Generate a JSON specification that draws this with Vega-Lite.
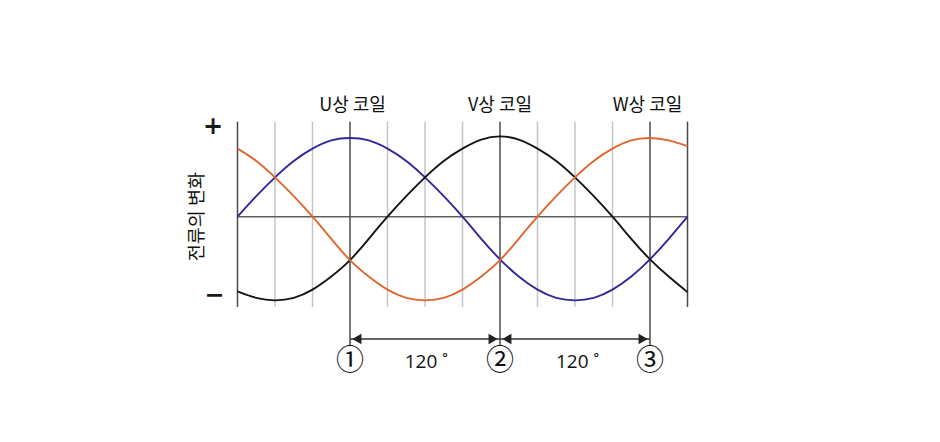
{
  "$schema": "https://vega.github.io/schema/vega-lite/v6.json",
  "width": 940,
  "height": 442,
  "autosize": {"type": "fit", "contains": "padding"},
  "padding": 0,
  "background": "white",
  "view": {"stroke": null},
  "config": {"font": "Noto Sans CJK KR"},
  "datasets": {
    "grid": [
      {"deg": 30, "top": 1.159, "bottom": -1.101},
      {"deg": 60, "top": 1.159, "bottom": -1.101},
      {"deg": 120, "top": 1.159, "bottom": -1.101},
      {"deg": 150, "top": 1.159, "bottom": -1.101},
      {"deg": 180, "top": 1.159, "bottom": -1.101},
      {"deg": 240, "top": 1.159, "bottom": -1.101},
      {"deg": 270, "top": 1.159, "bottom": -1.101},
      {"deg": 300, "top": 1.159, "bottom": -1.101}
    ],
    "frame": [
      {"deg": 0, "top": 1.159, "bottom": -1.101},
      {"deg": 360, "top": 1.159, "bottom": -1.101},
      {"deg": 90, "top": 1.159, "bottom": -1.565},
      {"deg": 210, "top": 1.159, "bottom": -1.565},
      {"deg": 330, "top": 1.159, "bottom": -1.565}
    ],
    "currents": [
      {"phase": "U", "deg": 0, "v": 0}, {"phase": "U", "deg": 15, "v": 0.25}, {"phase": "U", "deg": 30, "v": 0.48},
      {"phase": "U", "deg": 45, "v": 0.68}, {"phase": "U", "deg": 60, "v": 0.83}, {"phase": "U", "deg": 75, "v": 0.93},
      {"phase": "U", "deg": 90, "v": 0.96}, {"phase": "U", "deg": 105, "v": 0.93}, {"phase": "U", "deg": 120, "v": 0.83},
      {"phase": "U", "deg": 135, "v": 0.68}, {"phase": "U", "deg": 150, "v": 0.48}, {"phase": "U", "deg": 165, "v": 0.25},
      {"phase": "U", "deg": 180, "v": 0}, {"phase": "U", "deg": 195, "v": -0.27}, {"phase": "U", "deg": 210, "v": -0.52},
      {"phase": "U", "deg": 225, "v": -0.73}, {"phase": "U", "deg": 240, "v": -0.89}, {"phase": "U", "deg": 255, "v": -0.99},
      {"phase": "U", "deg": 270, "v": -1.02}, {"phase": "U", "deg": 285, "v": -0.99}, {"phase": "U", "deg": 300, "v": -0.89},
      {"phase": "U", "deg": 315, "v": -0.73}, {"phase": "U", "deg": 330, "v": -0.52}, {"phase": "U", "deg": 345, "v": -0.27},
      {"phase": "U", "deg": 360, "v": 0},
      {"phase": "V", "deg": 0, "v": -0.91}, {"phase": "V", "deg": 15, "v": -0.99}, {"phase": "V", "deg": 30, "v": -1.02},
      {"phase": "V", "deg": 45, "v": -0.99}, {"phase": "V", "deg": 60, "v": -0.89}, {"phase": "V", "deg": 75, "v": -0.73},
      {"phase": "V", "deg": 90, "v": -0.53}, {"phase": "V", "deg": 105, "v": -0.27}, {"phase": "V", "deg": 120, "v": 0},
      {"phase": "V", "deg": 135, "v": 0.25}, {"phase": "V", "deg": 150, "v": 0.48}, {"phase": "V", "deg": 165, "v": 0.68},
      {"phase": "V", "deg": 180, "v": 0.83}, {"phase": "V", "deg": 195, "v": 0.94}, {"phase": "V", "deg": 210, "v": 0.98},
      {"phase": "V", "deg": 225, "v": 0.94}, {"phase": "V", "deg": 240, "v": 0.83}, {"phase": "V", "deg": 255, "v": 0.68},
      {"phase": "V", "deg": 270, "v": 0.48}, {"phase": "V", "deg": 285, "v": 0.25}, {"phase": "V", "deg": 300, "v": 0},
      {"phase": "V", "deg": 315, "v": -0.27}, {"phase": "V", "deg": 330, "v": -0.52}, {"phase": "V", "deg": 345, "v": -0.73},
      {"phase": "V", "deg": 360, "v": -0.92},
      {"phase": "W", "deg": 0, "v": 0.83}, {"phase": "W", "deg": 15, "v": 0.68}, {"phase": "W", "deg": 30, "v": 0.48},
      {"phase": "W", "deg": 45, "v": 0.25}, {"phase": "W", "deg": 60, "v": 0}, {"phase": "W", "deg": 75, "v": -0.27},
      {"phase": "W", "deg": 90, "v": -0.53}, {"phase": "W", "deg": 105, "v": -0.73}, {"phase": "W", "deg": 120, "v": -0.89},
      {"phase": "W", "deg": 135, "v": -0.99}, {"phase": "W", "deg": 150, "v": -1.02}, {"phase": "W", "deg": 165, "v": -0.99},
      {"phase": "W", "deg": 180, "v": -0.89}, {"phase": "W", "deg": 195, "v": -0.73}, {"phase": "W", "deg": 210, "v": -0.53},
      {"phase": "W", "deg": 225, "v": -0.27}, {"phase": "W", "deg": 240, "v": 0}, {"phase": "W", "deg": 255, "v": 0.25},
      {"phase": "W", "deg": 270, "v": 0.48}, {"phase": "W", "deg": 285, "v": 0.68}, {"phase": "W", "deg": 300, "v": 0.83},
      {"phase": "W", "deg": 315, "v": 0.93}, {"phase": "W", "deg": 330, "v": 0.96}, {"phase": "W", "deg": 345, "v": 0.93},
      {"phase": "W", "deg": 360, "v": 0.86}
    ],
    "coils": [
      {"deg": 92, "label": "U상 코일"},
      {"deg": 210, "label": "V상 코일"},
      {"deg": 328, "label": "W상 코일"}
    ],
    "marks": [
      {"deg": 90, "label": "①"},
      {"deg": 210, "label": "②"},
      {"deg": 330, "label": "③"}
    ],
    "angles": [
      {"deg": 151, "label": "120 ˚"},
      {"deg": 272, "label": "120 ˚"}
    ],
    "spans": [
      {"start": 90, "end": 210},
      {"start": 210, "end": 330}
    ],
    "heads": [
      {"deg": 95.5, "dir": "left"},
      {"deg": 204.5, "dir": "right"},
      {"deg": 215.5, "dir": "left"},
      {"deg": 324.5, "dir": "right"}
    ],
    "signs": [
      {"deg": -19.6, "v": 1.09, "label": "+"},
      {"deg": -18.6, "v": -0.97, "label": "−"}
    ]
  },
  "layer": [
    {
      "data": {"name": "grid"},
      "mark": {"type": "rule", "stroke": "#c4c4c4", "strokeWidth": 1.5},
      "encoding": {
        "x": {"field": "deg", "type": "quantitative", "scale": {"domain": [-190, 562], "nice": false, "zero": false}, "axis": null},
        "y": {"field": "top", "type": "quantitative", "scale": {"domain": [-2.7476, 2.6427], "nice": false, "zero": false}, "axis": null},
        "y2": {"field": "bottom"}
      }
    },
    {
      "data": {"values": [{"from": 0, "to": 360, "v": 0}]},
      "mark": {"type": "rule", "stroke": "#606060", "strokeWidth": 1.5},
      "encoding": {
        "x": {"field": "from", "type": "quantitative"},
        "x2": {"field": "to"},
        "y": {"field": "v", "type": "quantitative"}
      }
    },
    {
      "data": {"name": "frame"},
      "mark": {"type": "rule", "stroke": "#4a4a4a", "strokeWidth": 1.5},
      "encoding": {
        "x": {"field": "deg", "type": "quantitative"},
        "y": {"field": "top", "type": "quantitative"},
        "y2": {"field": "bottom"}
      }
    },
    {
      "data": {"name": "currents"},
      "mark": {"type": "line", "interpolate": "natural", "strokeWidth": 1.9},
      "encoding": {
        "x": {"field": "deg", "type": "quantitative"},
        "y": {"field": "v", "type": "quantitative"},
        "color": {
          "field": "phase",
          "type": "nominal",
          "scale": {"domain": ["U", "V", "W"], "range": ["#30289a", "#141414", "#e0652e"]},
          "legend": null
        }
      }
    },
    {
      "data": {"name": "coils"},
      "mark": {"type": "text", "fontSize": 18, "color": "#111111", "baseline": "middle"},
      "encoding": {
        "x": {"field": "deg", "type": "quantitative"},
        "y": {"datum": 1.35, "type": "quantitative"},
        "text": {"field": "label"}
      }
    },
    {
      "data": {"name": "signs"},
      "mark": {"type": "text", "fontSize": 24, "fontWeight": "bold", "color": "#1a1a1a", "baseline": "middle", "font": "DejaVu Sans"},
      "encoding": {
        "x": {"field": "deg", "type": "quantitative"},
        "y": {"field": "v", "type": "quantitative"},
        "text": {"field": "label"}
      }
    },
    {
      "data": {"values": [{"deg": -32.5, "v": 0, "label": "전류의 변화"}]},
      "mark": {"type": "text", "fontSize": 18.5, "color": "#111111", "angle": 270, "baseline": "middle"},
      "encoding": {
        "x": {"field": "deg", "type": "quantitative"},
        "y": {"field": "v", "type": "quantitative"},
        "text": {"field": "label"}
      }
    },
    {
      "data": {"name": "spans"},
      "mark": {"type": "rule", "stroke": "#333333", "strokeWidth": 1.6},
      "encoding": {
        "x": {"field": "start", "type": "quantitative"},
        "x2": {"field": "end"},
        "y": {"datum": -1.491, "type": "quantitative"}
      }
    },
    {
      "data": {"name": "heads"},
      "mark": {"type": "point", "filled": true, "color": "#222222", "size": 110, "opacity": 1},
      "encoding": {
        "x": {"field": "deg", "type": "quantitative"},
        "y": {"datum": -1.491, "type": "quantitative"},
        "shape": {
          "field": "dir",
          "type": "nominal",
          "scale": {"domain": ["left", "right"], "range": ["triangle-left", "triangle-right"]},
          "legend": null
        }
      }
    },
    {
      "data": {"name": "marks"},
      "mark": {"type": "text", "fontSize": 28, "color": "#111111", "baseline": "middle"},
      "encoding": {
        "x": {"field": "deg", "type": "quantitative"},
        "y": {"datum": -1.772, "type": "quantitative"},
        "text": {"field": "label"}
      }
    },
    {
      "data": {"name": "angles"},
      "mark": {"type": "text", "fontSize": 19, "color": "#111111", "baseline": "middle", "font": "Open Sans"},
      "encoding": {
        "x": {"field": "deg", "type": "quantitative"},
        "y": {"datum": -1.772, "type": "quantitative"},
        "text": {"field": "label"}
      }
    }
  ]
}
